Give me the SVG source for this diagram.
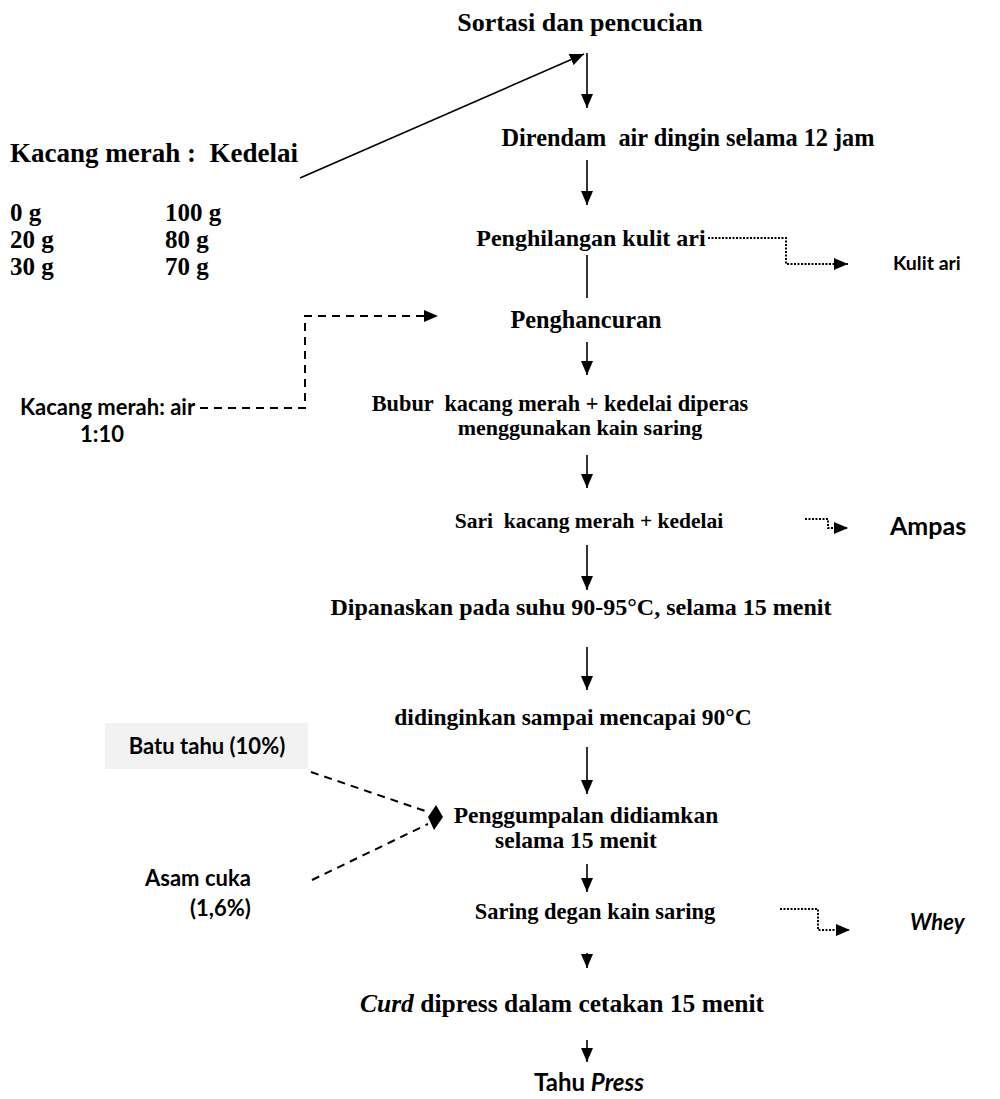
<svg xmlns="http://www.w3.org/2000/svg" width="1000" height="1099" viewBox="0 0 1000 1099">
<defs>
<style>
.s{font-family:"Liberation Serif","Times New Roman",serif;font-weight:bold;fill:#000;white-space:pre}
.c{font-family:Lato,"Open Sans",sans-serif;font-weight:bold;fill:#000;white-space:pre}
.m{text-anchor:middle}
.ln{stroke:#000;stroke-width:1.6;fill:none}
.dot{stroke:#000;stroke-width:2;fill:none;stroke-dasharray:2 1.5}
.dash{stroke:#000;stroke-width:2;fill:none;stroke-dasharray:8 6}
</style>
<marker id="ahv" viewBox="0 0 10 10" refX="10" refY="5" markerWidth="14" markerHeight="12" markerUnits="userSpaceOnUse" orient="auto" preserveAspectRatio="none">
<path d="M0,0 L10,5 L0,10 Z" fill="#000"/>
</marker>
</defs>
<rect width="1000" height="1099" fill="#fff"/>

<g id="connectors">
<line class="ln" x1="300" y1="178" x2="584" y2="54" marker-end="url(#ahv)"/>
<line class="ln" x1="587" y1="53" x2="587" y2="108" marker-end="url(#ahv)"/>
<line class="ln" x1="587" y1="160" x2="587" y2="205" marker-end="url(#ahv)"/>
<line class="ln" x1="587" y1="255" x2="587" y2="298"/>
<line class="ln" x1="587" y1="342" x2="587" y2="375" marker-end="url(#ahv)"/>
<line class="ln" x1="587" y1="455" x2="587" y2="488" marker-end="url(#ahv)"/>
<line class="ln" x1="587" y1="545" x2="587" y2="590" marker-end="url(#ahv)"/>
<line class="ln" x1="587" y1="647" x2="587" y2="690" marker-end="url(#ahv)"/>
<line class="ln" x1="587" y1="747" x2="587" y2="794" marker-end="url(#ahv)"/>
<line class="ln" x1="587" y1="864" x2="587" y2="892" marker-end="url(#ahv)"/>
<line class="ln" x1="587" y1="953" x2="587" y2="968" marker-end="url(#ahv)"/>
<line class="ln" x1="587" y1="1040" x2="587" y2="1062" marker-end="url(#ahv)"/>
<path class="dot" d="M708,238 H786 V264 H848" marker-end="url(#ahv)"/>
<path class="dot" d="M805,519 H828 V528 H848" marker-end="url(#ahv)"/>
<path class="dot" d="M780,909 H818 V930 H850" marker-end="url(#ahv)"/>
<path class="dash" d="M200,408 H305 V316 H424"/>
<polygon points="424,310 438,316 424,322" fill="#000"/>
<line class="dash" x1="311" y1="772" x2="428" y2="812"/>
<line class="dash" x1="312" y1="880" x2="428" y2="824"/>
<polygon points="428,817 436,805 443,817 434,830" fill="#000"/>
</g>

<g id="input-ratio">
<text class="s" x="10" y="162" font-size="27">Kacang merah :  Kedelai</text>
<text class="s" x="10" y="221" font-size="25">0 g</text>
<text class="s" x="165" y="221" font-size="25">100 g</text>
<text class="s" x="10" y="248" font-size="25">20 g</text>
<text class="s" x="165" y="248" font-size="25">80 g</text>
<text class="s" x="10" y="275" font-size="25">30 g</text>
<text class="s" x="165" y="275" font-size="25">70 g</text>
</g>
<g id="step-sortasi"><text class="s m" x="580" y="31" font-size="26">Sortasi dan pencucian</text></g>
<g id="step-rendam"><text class="s m" x="688" y="146" font-size="24.3">Direndam  air dingin selama 12 jam</text></g>
<g id="step-kulit"><text class="s m" x="591" y="246" font-size="24">Penghilangan kulit ari</text></g>
<g id="out-kulit"><text class="c" x="893" y="270" font-size="19.5">Kulit ari</text></g>
<g id="step-hancur"><text class="s m" x="586" y="328" font-size="24.3">Penghancuran</text></g>
<g id="in-air">
<text class="c" x="20" y="415" font-size="22">Kacang merah: air</text>
<text class="c" x="80" y="442" font-size="22">1:10</text>
</g>
<g id="step-bubur">
<text class="s m" x="560" y="411" font-size="22.3">Bubur  kacang merah + kedelai diperas</text>
<text class="s m" x="580" y="435" font-size="22">menggunakan kain saring</text>
</g>
<g id="step-sari"><text class="s m" x="589" y="528" font-size="21.5">Sari  kacang merah + kedelai</text></g>
<g id="out-ampas"><text class="c" x="890" y="535" font-size="25">Ampas</text></g>
<g id="step-panas"><text class="s m" x="581" y="615" font-size="24">Dipanaskan pada suhu 90-95°C, selama 15 menit</text></g>
<g id="step-dingin"><text class="s m" x="573" y="725" font-size="23.5">didinginkan sampai mencapai 90°C</text></g>
<g id="in-batu">
<rect x="105" y="723" width="203" height="46" fill="#f2f2f2"/>
<text class="c m" x="207" y="754" font-size="22">Batu tahu (10%)</text>
</g>
<g id="in-cuka">
<text class="c" x="145" y="886" font-size="22">Asam cuka</text>
<text class="c" x="190" y="916" font-size="22">(1,6%)</text>
</g>
<g id="step-gumpal">
<text class="s m" x="586" y="823" font-size="23.5">Penggumpalan didiamkan</text>
<text class="s m" x="576" y="848" font-size="23.5">selama 15 menit</text>
</g>
<g id="step-saring"><text class="s m" x="595" y="919" font-size="22.5">Saring degan kain saring</text></g>
<g id="out-whey"><text class="c" x="910" y="930" font-size="22" font-style="italic">Whey</text></g>
<g id="step-curd"><text class="s m" x="562" y="1012" font-size="25.5"><tspan font-style="italic">Curd</tspan> dipress dalam cetakan 15 menit</text></g>
<g id="step-tahu"><text class="c m" x="589" y="1091" font-size="24">Tahu <tspan font-style="italic">Press</tspan></text></g>
</svg>
